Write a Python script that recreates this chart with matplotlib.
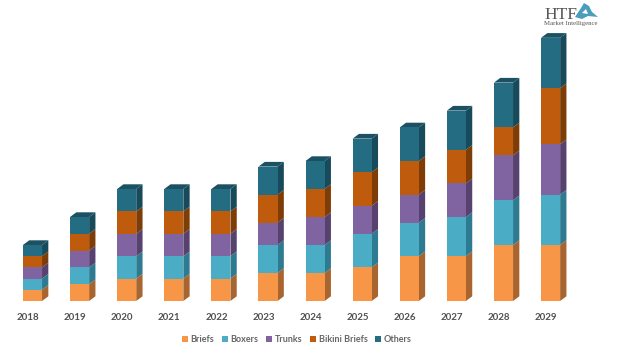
import matplotlib
matplotlib.use("Agg")
import matplotlib.pyplot as plt
import numpy as np

plt.rcParams['font.family'] = ['Lato', 'DejaVu Sans']

years = [2018, 2019, 2020, 2021, 2022, 2023, 2024, 2025, 2026, 2027, 2028, 2029]
briefs = [2, 3, 4, 4, 4, 5, 5, 6, 8, 8, 10, 10]
boxers = [2, 3, 4, 4, 4, 5, 5, 6, 6, 7, 8, 9]
trunks = [2, 3, 4, 4, 4, 4, 5, 5, 5, 6, 8, 9]
bikini = [2, 3, 4, 4, 4, 5, 5, 6, 6, 6, 5, 10]
others = [2, 3, 4, 4, 4, 5, 5, 6, 6, 7, 8, 9]

names = ["Briefs", "Boxers", "Trunks", "Bikini Briefs", "Others"]
series = [briefs, boxers, trunks, bikini, others]
front_colors = ["#F79646", "#4BACC6", "#8064A2", "#BE5B0C", "#246C82"]
side_colors = ["#A8652F", "#2E7A90", "#57416F", "#7E3C07", "#174A5A"]
top_color = "#1B5163"

W, H = 636, 354
fig = plt.figure(figsize=(W / 100, H / 100), dpi=100)
# one data unit is about 47 px across and 5.6 px up, baseline at y=301 px
ax = fig.add_axes([0, (H - 301) / H, 1, 301 / H])
ax.set_xlim(-32.5 / 47.1, (W - 32.5) / 47.1)
ax.set_ylim(0, 301 / 5.6)
ax.patch.set_alpha(0)

x = np.arange(len(years))
bar_w = 0.405
dx = 6.3 / 47.1
dy = 4.7 / 5.6

bottom = np.zeros(len(years))
for vals, name, fc, sc in zip(series, names, front_colors, side_colors):
    vals = np.array(vals, dtype=float)
    ax.bar(x, vals, bar_w, bottom=bottom, color=fc, label=name, zorder=3)
    for xi, b, v in zip(x, bottom, vals):
        r = xi + bar_w / 2
        ax.fill([r, r + dx, r + dx, r], [b, b + dy, b + v + dy, b + v],
                color=sc, lw=0, zorder=2)
    bottom = bottom + vals

# top faces
for xi, t in zip(x, bottom):
    l = xi - bar_w / 2
    r = xi + bar_w / 2
    ax.fill([l, l + dx, r + dx, r], [t, t + dy, t + dy, t], color=top_color, lw=0, zorder=2)

for s in ax.spines.values():
    s.set_visible(False)
ax.yaxis.set_visible(False)
ax.set_xticks(x - 0.095)
ax.set_xticklabels(years, fontsize=7, fontweight="bold", color="#505050")
ax.tick_params(axis="x", length=0, pad=8.5)

leg = ax.legend(loc="center", bbox_to_anchor=(297 / W, (H - 340) / H), bbox_transform=fig.transFigure,
                ncol=5, frameon=False, handlelength=0.65, handleheight=0.65, handletextpad=0.3,
                columnspacing=0.85, borderpad=0, prop={"size": 6.5, "weight": "bold"})
for t in leg.get_texts():
    t.set_color("#666666")

# logo
fig.text(544 / W, (H - 19) / H, "HTF", family="Liberation Serif", fontsize=12.5, color="#555555", va="baseline")
fig.text(544 / W, (H - 25.5) / H, "Market Intelligence", family="Liberation Serif", fontsize=4.9,
         color="#555555", va="baseline")
fig.patches.append(plt.Polygon([[575 / W, (H - 17) / H], [581 / W, (H - 8) / H], [584 / W, (H - 3) / H],
                                [589 / W, (H - 6) / H], [592 / W, (H - 12) / H], [598 / W, (H - 17) / H],
                                [588 / W, (H - 16) / H], [582 / W, (H - 19) / H]],
                               closed=True, color="#4A9DBB", lw=0, transform=fig.transFigure))
fig.patches.append(plt.Polygon([[582 / W, (H - 13) / H], [586 / W, (H - 9) / H], [588 / W, (H - 14) / H]],
                               closed=True, color="white", lw=0, transform=fig.transFigure))

plt.savefig("out.png", dpi=100)
